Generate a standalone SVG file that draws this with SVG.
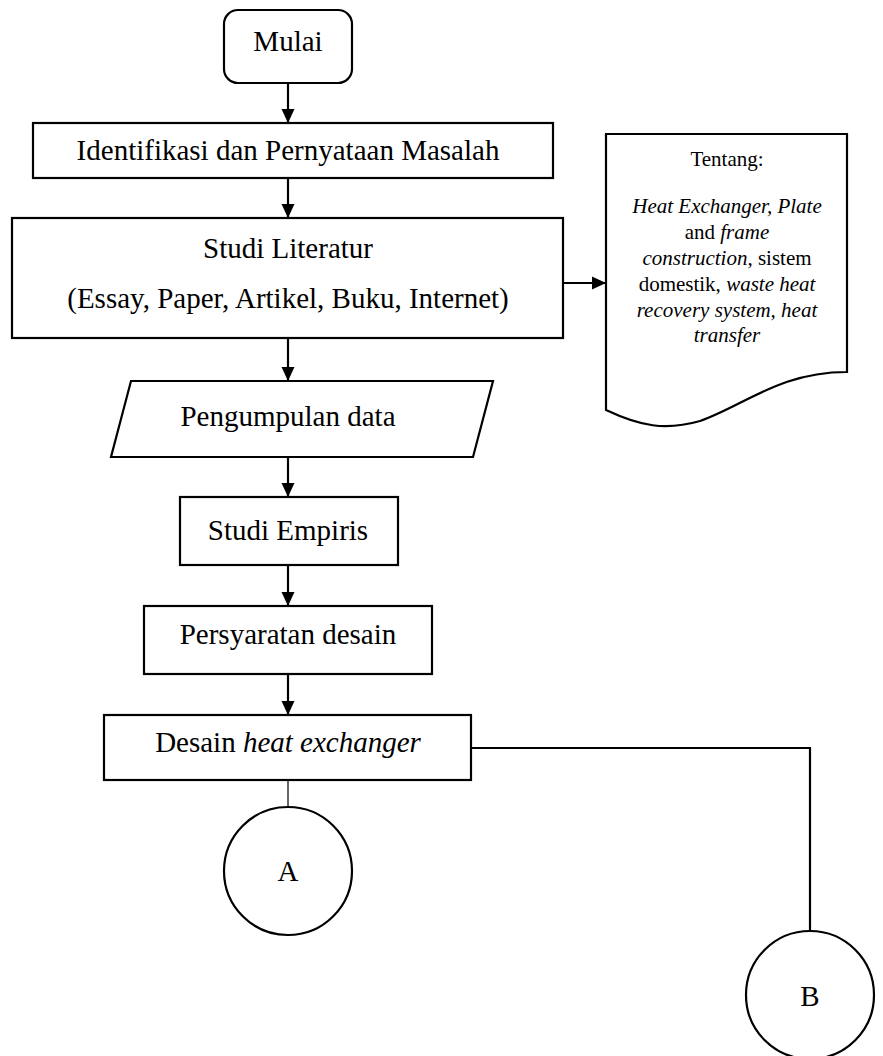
<svg xmlns="http://www.w3.org/2000/svg" width="883" height="1056" viewBox="0 0 883 1056">
<defs>
<marker id="ah" markerWidth="14" markerHeight="14" refX="14" refY="7" orient="auto" markerUnits="userSpaceOnUse" viewBox="0 0 14 14">
<path d="M0,0.5 L14,7 L0,13.5 Z" fill="#000"/>
</marker>
<style>
.box{fill:#fff;stroke:#000;stroke-width:2.2}
.t{font-family:"Liberation Serif","Times New Roman",serif;font-size:29px;fill:#000;text-anchor:middle}
.s{font-family:"Liberation Serif","Times New Roman",serif;font-size:21px;fill:#000;text-anchor:middle}
.i{font-style:italic}
.c{fill:none;stroke:#000;stroke-width:2.2}
.c1{fill:none;stroke:#000;stroke-width:1.2}
</style>
</defs>
<rect width="883" height="1056" fill="#fff"/>
<g id="connectors">
<line class="c" x1="288" y1="83" x2="288" y2="123" marker-end="url(#ah)"/>
<line class="c" x1="288" y1="178" x2="288" y2="218" marker-end="url(#ah)"/>
<line class="c" x1="563" y1="283" x2="606" y2="283" marker-end="url(#ah)"/>
<line class="c" x1="288" y1="338" x2="288" y2="381" marker-end="url(#ah)"/>
<line class="c" x1="288" y1="457" x2="288" y2="497" marker-end="url(#ah)"/>
<line class="c" x1="288" y1="565" x2="288" y2="606" marker-end="url(#ah)"/>
<line class="c" x1="288" y1="674" x2="288" y2="715" marker-end="url(#ah)"/>
<line class="c1" x1="288" y1="780" x2="288" y2="807"/>
<polyline class="c" points="471,748 810,748 810,931"/>
</g>
<g id="mulai">
<rect class="box" x="224" y="10" width="128" height="73" rx="14"/>
<text class="t" x="288" y="51">Mulai</text>
</g>
<g id="identifikasi">
<rect class="box" x="33" y="123" width="520" height="55"/>
<text class="t" x="288" y="160">Identifikasi dan Pernyataan Masalah</text>
</g>
<g id="studi-literatur">
<rect class="box" x="12" y="218" width="551" height="120"/>
<text class="t" x="288" y="258">Studi Literatur</text>
<text class="t" x="288" y="308">(Essay, Paper, Artikel, Buku, Internet)</text>
</g>
<g id="tentang">
<path class="box" d="M606,134 H847 V372 C780,372 745,405 700,421 C665,431 640,426 606,410 Z"/>
<text class="s" x="727" y="166">Tentang:</text>
<text class="s" x="727" y="213"><tspan class="i">Heat Exchanger, Plate</tspan></text>
<text class="s" x="727" y="239">and <tspan class="i">frame</tspan></text>
<text class="s" x="727" y="265"><tspan class="i">construction,</tspan> sistem</text>
<text class="s" x="727" y="291">domestik, <tspan class="i">waste heat</tspan></text>
<text class="s" x="727" y="317"><tspan class="i">recovery system, heat</tspan></text>
<text class="s" x="727" y="342"><tspan class="i">transfer</tspan></text>
</g>
<g id="pengumpulan">
<polygon class="box" points="131,381 493,381 473,457 111,457"/>
<text class="t" x="288" y="426">Pengumpulan data</text>
</g>
<g id="studi-empiris">
<rect class="box" x="180" y="497" width="218" height="68"/>
<text class="t" x="288" y="540">Studi Empiris</text>
</g>
<g id="persyaratan">
<rect class="box" x="144" y="606" width="288" height="68"/>
<text class="t" x="288" y="644">Persyaratan desain</text>
</g>
<g id="desain">
<rect class="box" x="104" y="715" width="367" height="65"/>
<text class="t" x="288" y="752">Desain <tspan class="i">heat exchanger</tspan></text>
</g>
<g id="a">
<circle class="box" cx="288" cy="871" r="64"/>
<text class="t" x="288" y="881">A</text>
</g>
<g id="b">
<circle class="box" cx="810" cy="995" r="64"/>
<text class="t" x="810" y="1006">B</text>
</g>
</svg>
